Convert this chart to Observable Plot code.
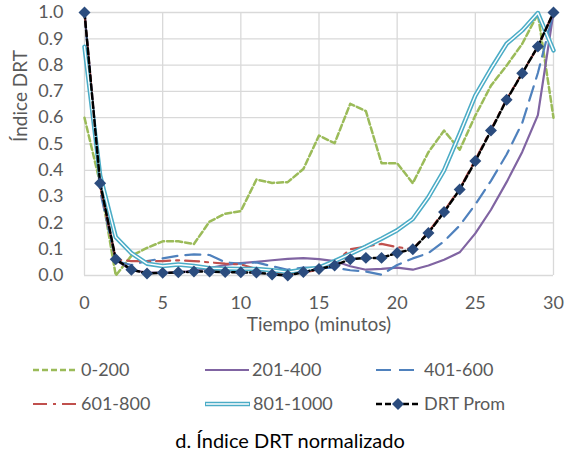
<!DOCTYPE html>
<html><head><meta charset="utf-8">
<script src="https://cdn.jsdelivr.net/npm/d3@7"></script>
<script src="https://cdn.jsdelivr.net/npm/@observablehq/plot@0.6"></script>
<style>body{margin:0;background:#fff;} svg{display:block}</style>
</head><body><div id="chart"></div>
<script>
const minutes = [0,1,2,3,4,5,6,7,8,9,10,11,12,13,14,15,16,17,18,19,20,21,22,23,24,25,26,27,28,29,30];
const s0_200   = [0.60,0.35,0.0,0.075,0.105,0.13,0.13,0.12,0.205,0.235,0.245,0.365,0.352,0.355,0.405,0.532,0.503,0.653,0.625,0.427,0.427,0.351,0.469,0.551,0.478,0.608,0.722,0.798,0.881,0.995,0.60];
const s201_400 = [1.0,0.35,0.06,0.02,0.012,0.01,0.012,0.018,0.028,0.04,0.047,0.052,0.058,0.063,0.066,0.062,0.055,0.035,0.022,0.025,0.03,0.022,0.038,0.06,0.088,0.16,0.25,0.355,0.47,0.61,1.0];
const s401_600 = [1.0,0.32,0.055,0.04,0.055,0.065,0.075,0.08,0.078,0.05,0.045,0.05,0.035,0.022,0.03,0.028,0.03,0.02,0.015,0.003,0.04,0.065,0.085,0.13,0.19,0.27,0.36,0.46,0.58,0.77,1.0];
const s601_800 = [1.0,0.34,0.06,0.055,0.054,0.055,0.058,0.055,0.05,0.045,0.042,0.025,0.01,0.005,0.012,0.022,0.05,0.10,0.11,0.12,0.108,0.10,0.165,0.245,0.33,0.44,0.555,0.67,0.77,0.87,1.0];
const s801_1000= [0.87,0.38,0.146,0.085,0.045,0.036,0.042,0.036,0.028,0.026,0.025,0.025,0.02,0.013,0.022,0.03,0.055,0.082,0.11,0.14,0.172,0.215,0.298,0.40,0.539,0.684,0.786,0.881,0.932,0.998,0.856];
const drtProm  = [1.0,0.351,0.062,0.022,0.008,0.01,0.012,0.015,0.015,0.013,0.012,0.011,0.004,0.0,0.013,0.025,0.038,0.062,0.067,0.067,0.086,0.10,0.162,0.241,0.327,0.435,0.551,0.668,0.769,0.871,1.0];
const seriesNames = ["0-200","201-400","401-600","601-800","801-1000","DRT Prom"];
const xTicks = [0,5,10,15,20,25,30];
const yTicks = [0,0.1,0.2,0.3,0.4,0.5,0.6,0.7,0.8,0.9,1.0];
const xTitle = "Tiempo (minutos)";
const yTitle = "Índice DRT";
const caption = "d. Índice DRT normalizado";

const rows = vals => minutes.map((m,i)=>({x:m, y:vals[i]}));
const FONT = "Lato, 'Open Sans', sans-serif";
const GREY = "#595959";
const diamond = {draw(ctx,size){const r=Math.sqrt(size)*0.62625; ctx.moveTo(0,-r);ctx.lineTo(r,0);ctx.lineTo(0,r);ctx.lineTo(-r,0);ctx.closePath();}};

const styles = {
  "0-200":   {stroke:"#9BBB59", strokeWidth:2.5, strokeDasharray:"6,3"},
  "201-400": {stroke:"#8064A2", strokeWidth:2.2},
  "401-600": {stroke:"#4F81BD", strokeWidth:2.2, strokeDasharray:"15,8"},
  "601-800": {stroke:"#C0504D", strokeWidth:2.2, strokeDasharray:"14,6,3,6"},
  "DRT Prom":{stroke:"#000000", strokeWidth:2.5, strokeDasharray:"6,3"}
};

const chart = Plot.plot({
  width:574, height:460, marginLeft:84, marginRight:21, marginTop:12, marginBottom:185,
  style:{fontFamily:FONT, fontSize:"18px", color:GREY, background:"#fff"},
  x:{domain:[0,30]}, y:{domain:[0,1]},
  marks:[
    Plot.ruleY(yTicks,{stroke:"#d9d9d9", strokeWidth:1.3}),
    Plot.ruleX(xTicks,{stroke:"#d9d9d9", strokeWidth:1.3}),
    Plot.axisX({ticks:xTicks, tickSize:0, tickPadding:21, label:null, fill:GREY}),
    Plot.axisY({ticks:yTicks, tickSize:0, tickPadding:21, tickFormat:".1f", label:null, fill:GREY}),
    Plot.text([xTitle],{text:d=>d, frameAnchor:"bottom", dy:55, fontSize:19, fill:GREY}),
    Plot.text([yTitle],{text:d=>d, frameAnchor:"left", rotate:-90, dx:-64, dy:-2, fontSize:19, fill:GREY}),
    Plot.line(rows(s0_200),{x:"x",y:"y",...styles["0-200"]}),
    Plot.line(rows(s201_400),{x:"x",y:"y",...styles["201-400"]}),
    Plot.line(rows(s401_600),{x:"x",y:"y",...styles["401-600"]}),
    Plot.line(rows(s601_800),{x:"x",y:"y",...styles["601-800"]}),
    Plot.line(rows(s801_1000),{x:"x",y:"y",stroke:"#4BACC6",strokeWidth:4.5}),
    Plot.line(rows(s801_1000),{x:"x",y:"y",stroke:"#ffffff",strokeWidth:1.4}),
    Plot.line(rows(drtProm),{x:"x",y:"y",...styles["DRT Prom"]}),
    Plot.dot(rows(drtProm),{x:"x",y:"y",symbol:diamond,r:5.4,fill:"#2B4C7E",stroke:"none"})
  ]
});
document.getElementById("chart").append(chart);

// legend + caption
const svg = d3.select(chart.tagName.toLowerCase()==="svg" ? chart : chart.querySelector("svg"));
const leg = svg.append("g").attr("font-family",FONT).attr("font-size",18).attr("fill",GREY).attr("text-anchor","start");
const items = [
  {name:"0-200",   x0:33,  x1:78,  tx:81,  y:370},
  {name:"201-400", x0:205, x1:249, tx:252, y:370},
  {name:"401-600", x0:376, x1:420, tx:424, y:370},
  {name:"601-800", x0:33,  x1:78,  tx:81,  y:404},
  {name:"801-1000",x0:205, x1:250, tx:253, y:404},
  {name:"DRT Prom",x0:376, x1:420, tx:424, y:404}
];
items.forEach(it=>{
  if (it.name==="801-1000") {
    leg.append("line").attr("x1",it.x0).attr("x2",it.x1).attr("y1",it.y).attr("y2",it.y).attr("stroke","#4BACC6").attr("stroke-width",4.5);
    leg.append("line").attr("x1",it.x0+1).attr("x2",it.x1-1).attr("y1",it.y).attr("y2",it.y).attr("stroke","#fff").attr("stroke-width",1.4);
  } else {
    const s = styles[it.name];
    leg.append("line").attr("x1",it.x0).attr("x2",it.x1).attr("y1",it.y).attr("y2",it.y)
      .attr("stroke",s.stroke).attr("stroke-width",s.strokeWidth).attr("stroke-dasharray",s.strokeDasharray||null);
    if (it.name==="DRT Prom") {
      const c=(it.x0+it.x1)/2;
      leg.append("path").attr("d",`M${c},${it.y-6}L${c+6},${it.y}L${c},${it.y+6}L${c-6},${it.y}Z`).attr("fill","#2B4C7E");
    }
  }
  leg.append("text").attr("x",it.tx).attr("y",it.y).attr("dy","0.35em").attr("text-anchor","start").text(it.name);
});
svg.append("text").attr("x",290).attr("y",441).attr("dy","0.35em").attr("text-anchor","middle")
  .attr("font-family",FONT).attr("font-size",20).attr("fill","#000").text(caption);
</script>
</body></html>
